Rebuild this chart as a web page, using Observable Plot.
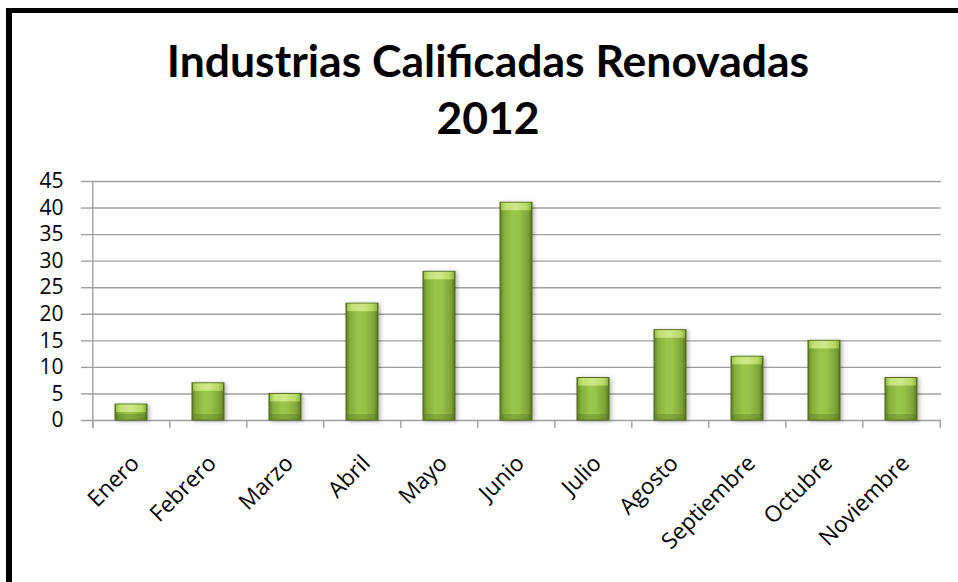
<!DOCTYPE html>
<html>
<head>
<meta charset="utf-8">
<script src="https://cdn.jsdelivr.net/npm/d3@7"></script>
<script src="https://cdn.jsdelivr.net/npm/@observablehq/plot@0.6"></script>
<style>
  html, body { margin: 0; padding: 0; background: #fff; }
  body { width: 958px; height: 582px; position: relative; overflow: hidden; }
  #frame { position: absolute; left: 6px; top: 8px; width: 2000px; height: 2000px;
           border-left: 6px solid #000; border-top: 5px solid #000; box-sizing: border-box; pointer-events: none; z-index: 3; }
  #title { position: absolute; left: 0; top: 31px; width: 976px; text-align: center;
           font-family: Lato, sans-serif; font-weight: 700; font-size: 44.5px; line-height: 57px; color: #000; z-index: 2; }
  #chart { position: absolute; left: 0; top: 0; z-index: 1; }
</style>
</head>
<body>
<svg width="0" height="0" style="position:absolute">
  <defs>
    <linearGradient id="barGrad" x1="0" x2="1" y1="0" y2="0">
      <stop offset="0" stop-color="#5f7f24"/>
      <stop offset="0.12" stop-color="#84ad3b"/>
      <stop offset="0.4" stop-color="#9cc64b"/>
      <stop offset="0.6" stop-color="#97c147"/>
      <stop offset="0.88" stop-color="#7ca236"/>
      <stop offset="1" stop-color="#56731f"/>
    </linearGradient>
    <linearGradient id="bevelGrad" x1="0" x2="1" y1="0" y2="0">
      <stop offset="0" stop-color="#9cc450"/>
      <stop offset="0.15" stop-color="#c2e173"/>
      <stop offset="0.5" stop-color="#cfe98a"/>
      <stop offset="0.85" stop-color="#b8d965"/>
      <stop offset="1" stop-color="#8fb645"/>
    </linearGradient>
    <filter id="shadow" x="-20%" y="-10%" width="150%" height="130%">
      <feDropShadow dx="2" dy="1" stdDeviation="2" flood-color="#000" flood-opacity="0.28"/>
    </filter>
  </defs>
</svg>
<div id="title">Industrias Calificadas Renovadas<br>2012</div>
<div id="chart"></div>
<div id="frame"></div>
<script>
const months = ["Enero", "Febrero", "Marzo", "Abril", "Mayo", "Junio", "Julio", "Agosto", "Septiembre", "Octubre", "Noviembre"];
const values = [3, 7, 5, 22, 28, 41, 8, 17, 12, 15, 8];
const yTicks = [0, 5, 10, 15, 20, 25, 30, 35, 40, 45];

const data = months.map((m, i) => ({month: m, value: values[i]}));

const W = 958, H = 582, ML = 90, MR = 17, MT = 181, MB = 162;
const step = (W - ML - MR) / months.length;
const gridColor = "#a0a0a0";

const chart = Plot.plot({
  width: W,
  height: H,
  marginLeft: ML,
  marginRight: MR,
  marginTop: MT,
  marginBottom: MB,
  style: {fontFamily: "'Open Sans', sans-serif", background: "transparent", color: "#000", overflow: "visible"},
  x: {domain: months, paddingInner: 0.586, paddingOuter: 0.293, axis: null},
  y: {domain: [0, 45]},
  marks: [
    Plot.gridY(yTicks, {stroke: gridColor, strokeOpacity: 1, strokeWidth: 1.4}),
    Plot.axisY(yTicks, {tickSize: 9, tickPadding: 18, fontSize: 21, stroke: gridColor, strokeWidth: 1.4, fill: "#000", label: null}),
    Plot.ruleX([months[0]], {dx: -step / 2, stroke: gridColor, strokeWidth: 1.4, insetBottom: -8}),
    Plot.ruleX(months, {x: d => d, dx: -step / 2, y1: 0, y2: 0, insetBottom: -8, stroke: gridColor, strokeWidth: 1.4}),
    Plot.ruleX([months[months.length - 1]], {x: d => d, dx: step / 2, y1: 0, y2: 0, insetBottom: -8, stroke: gridColor, strokeWidth: 1.4}),
    Plot.barY(data, {x: "month", y: "value", fill: "url(#barGrad)", stroke: "#4f6b1c", strokeWidth: 1}),
    Plot.barY(data, {x: "month", y1: "value", y2: "value", insetBottom: -8, insetTop: 0.5, insetLeft: 1, insetRight: 1, fill: "url(#bevelGrad)"}),
    Plot.barY(data, {x: "month", y1: 0, y2: 0, insetTop: -6, insetBottom: 0.5, insetLeft: 1, insetRight: 1, fill: "#4f6b1c", fillOpacity: 0.3}),
    Plot.text(months, {x: d => d, y: 0, text: d => d, rotate: -45, textAnchor: "end", lineAnchor: "middle", dx: 4, dy: 39, fontSize: 22.5, fill: "#000"})
  ]
});

d3.select(chart).selectAll("g[aria-label='bar']").filter((d, i) => i === 0).attr("filter", "url(#shadow)");
document.getElementById("chart").appendChild(chart);
</script>
</body>
</html>
